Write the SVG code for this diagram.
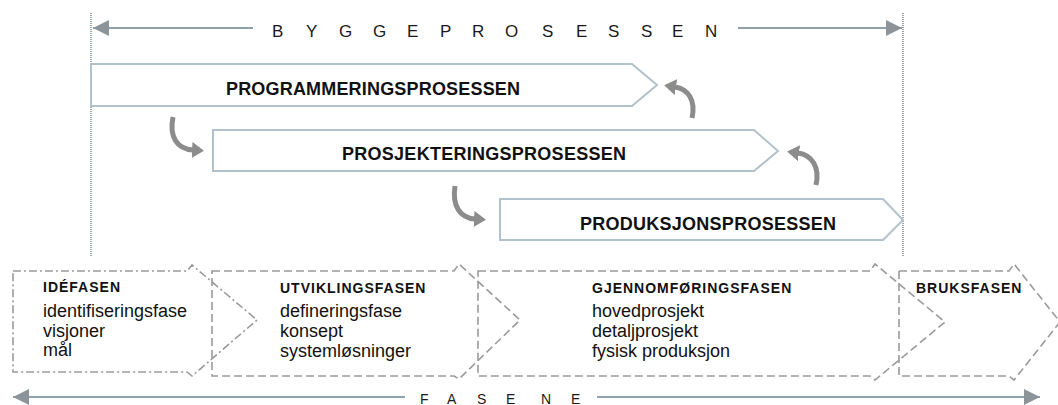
<svg xmlns="http://www.w3.org/2000/svg" width="1058" height="405" viewBox="0 0 1058 405">
<style>
text{font-family:"Liberation Sans",Arial,sans-serif;fill:#111}
.spaced{font-size:17px;fill:#1a1a1a}
.proc{fill:#fff;stroke:#b2c2cd;stroke-width:2}
.ptitle{font-size:18px;font-weight:bold}
.phase{fill:none;stroke:#9a9a9a;stroke-width:1.6;stroke-dasharray:8 4}
.phase.dd{stroke-dasharray:8 3 2 3}
.ph{font-size:14px;font-weight:bold;letter-spacing:1px}
.pb{font-size:18px}
.axis{stroke:#8fa1ad;stroke-width:2;fill:none}
.guide{stroke:#9aa4aa;stroke-width:2;stroke-dasharray:1 1;fill:none}
.curve{stroke:#8c8c8c;stroke-width:5;fill:none;marker-end:url(#curveHead)}
</style>
<defs>
<marker id="axisHead" markerUnits="userSpaceOnUse" markerWidth="18" markerHeight="18" refX="16" refY="8" orient="auto">
<path d="M0,0 L16,8 L0,16 Z" fill="#8c9399"/>
</marker>
<marker id="curveHead" markerUnits="userSpaceOnUse" markerWidth="16" markerHeight="18" refX="1" refY="8" orient="auto">
<path d="M0,0 L12,8 L0,16 Z" fill="#8c8c8c"/>
</marker>
</defs>
<rect width="1058" height="405" fill="#fff"/>

<g id="guides">
<line class="guide" x1="91" y1="13" x2="91" y2="256"/>
<line class="guide" x1="903" y1="13" x2="903" y2="256"/>
</g>

<g id="byggeprosessen">
<line class="axis" x1="253" y1="28" x2="93" y2="28" marker-end="url(#axisHead)"/>
<line class="axis" x1="738" y1="28" x2="902" y2="28" marker-end="url(#axisHead)"/>
<text class="spaced" y="37" x="272 306 339 373 407 440 472 505 542 576 608 641 672 705">BYGGEPROSESSEN</text>
</g>

<g id="programmering">
<path class="proc" d="M91,64 H632 L657,85 L632,106 H91 Z"/>
<text class="ptitle" x="226" y="95" textLength="294" lengthAdjust="spacing">PROGRAMMERINGSPROSESSEN</text>
</g>

<g id="prosjektering">
<path class="proc" d="M213,130 H754 L778,151 L754,171 H213 Z"/>
<text class="ptitle" x="342" y="160" textLength="284" lengthAdjust="spacing">PROSJEKTERINGSPROSESSEN</text>
</g>

<g id="produksjon">
<path class="proc" d="M500,199 H883 L903,220 L883,240 H500 Z"/>
<text class="ptitle" x="580" y="230" textLength="256" lengthAdjust="spacing">PRODUKSJONSPROSESSEN</text>
</g>

<g id="connectors">
<path class="curve" d="M173,117 C169,137 177,149 193,150"/>
<path class="curve" d="M692,118 C696,100 688,89 675,87"/>
<path class="curve" d="M816,185 C820,167 812,155 798,153"/>
<path class="curve" d="M455,186 C452,206 460,218 475,219"/>
</g>

<g id="idefasen">
<path class="phase dd" d="M13,271 H187 L192,265 L257,320 L192,376 L187,372 H13 Z"/>
<text class="ph" x="43" y="292">IDÉFASEN</text>
<text class="pb" x="43" y="317">identifiseringsfase</text>
<text class="pb" x="43" y="337">visjoner</text>
<text class="pb" x="43" y="356">mål</text>
</g>

<g id="utviklingsfasen">
<path class="phase" d="M212,271 H454 L459,264 L520,320 L459,379 L454,376 H212 Z"/>
<text class="ph" x="280" y="293">UTVIKLINGSFASEN</text>
<text class="pb" x="280" y="317">defineringsfase</text>
<text class="pb" x="280" y="337">konsept</text>
<text class="pb" x="280" y="357">systemløsninger</text>
</g>

<g id="gjennomforingsfasen">
<path class="phase" d="M478,271 H870 L875,264 L945,322 L875,380 L870,376 H478 Z"/>
<text class="ph" x="592" y="293">GJENNOMFØRINGSFASEN</text>
<text class="pb" x="592" y="317">hovedprosjekt</text>
<text class="pb" x="592" y="337">detaljprosjekt</text>
<text class="pb" x="592" y="357">fysisk produksjon</text>
</g>

<g id="bruksfasen">
<path class="phase" d="M899,271 H1009 L1014,264 L1060,322 L1014,380 L1009,376 H899 Z"/>
<text class="ph" x="916" y="293">BRUKSFASEN</text>
</g>

<g id="fasene">
<line class="axis" x1="405" y1="397" x2="13" y2="397" marker-end="url(#axisHead)"/>
<line class="axis" x1="597" y1="397" x2="1040" y2="397" marker-end="url(#axisHead)"/>
<text class="spaced" style="font-size:14px" y="404" x="420 447 477 506 541 571">FASENE</text>
</g>
</svg>
